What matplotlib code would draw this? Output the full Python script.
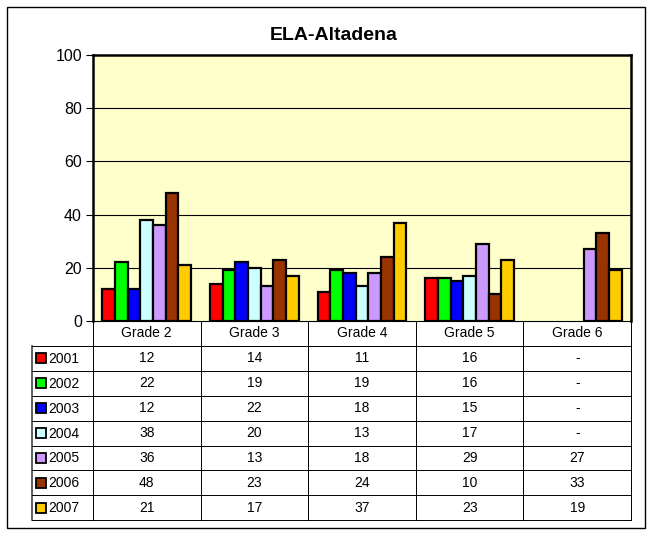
import numpy as np
import matplotlib
matplotlib.use("Agg")
import matplotlib.pyplot as plt
from matplotlib.patches import Rectangle

plt.rcParams['font.family'] = ['Liberation Sans', 'DejaVu Sans']

title = "ELA-Altadena"
grades = ["Grade 2", "Grade 3", "Grade 4", "Grade 5", "Grade 6"]
years = ["2001", "2002", "2003", "2004", "2005", "2006", "2007"]
v2001 = [12, 14, 11, 16, None]
v2002 = [22, 19, 19, 16, None]
v2003 = [12, 22, 18, 15, None]
v2004 = [38, 20, 13, 17, None]
v2005 = [36, 13, 18, 29, 27]
v2006 = [48, 23, 24, 10, 33]
v2007 = [21, 17, 37, 23, 19]
series = [v2001, v2002, v2003, v2004, v2005, v2006, v2007]
colors = ["#FF0000", "#00FF00", "#0000FF", "#CCFFFF", "#CC99FF", "#993300", "#FFCC00"]
yticks = [0, 20, 40, 60, 80, 100]

W, H = 655, 537
fig = plt.figure(figsize=(W / 100, H / 100), dpi=100)

# background overlay axes in pixel coordinates
bg = fig.add_axes([0, 0, 1, 1])
bg.set_xlim(0, W)
bg.set_ylim(H, 0)
bg.axis('off')
bg.add_patch(Rectangle((7, 7), 638, 521, fill=False, edgecolor='black', lw=1.0))
bg.text(334, 35, title, ha='center', va='center', fontsize=14, fontweight='bold')

# chart axes
pl, pr, pt, pb = 93, 631, 55, 321
ax = fig.add_axes([pl / W, (H - pb) / H, (pr - pl) / W, (pb - pt) / H])
ax.set_facecolor("#FFFFCC")
n = len(grades)
nb = len(series)
gap = 1.5
bw = 1.0 / (nb + gap)
x = np.arange(n)
for i, (s, c) in enumerate(zip(series, colors)):
    vals = np.array([np.nan if v is None else v for v in s], dtype=float)
    offs = -0.5 + bw * (gap / 2) + bw * i + bw / 2
    ax.bar(x + offs, vals, width=bw, color=c, edgecolor='black', linewidth=1.6, zorder=3)
ax.set_xlim(-0.5, n - 0.5)
ax.set_ylim(0, 100)
ax.set_yticks(yticks)
ax.set_yticklabels([str(t) for t in yticks], fontsize=11.5)
ax.set_xticks([])
for t in yticks[1:-1]:
    ax.axhline(t, color='black', lw=0.8, zorder=1)
for side in ['top', 'right', 'left']:
    ax.spines[side].set_linewidth(1.8)
ax.spines['bottom'].set_linewidth(0.8)
ax.tick_params(axis='y', direction='out', length=5, width=0.8, pad=3)

# data table
colw = (pr - pl) / n
row0 = pb
rh = 24.9
lc = 'black'
lw = 0.7
nrows = nb
bottom = row0 + rh * (nrows + 1)
fs = 10
for j, g in enumerate(grades):
    bg.text(pl + colw * (j + 0.5), row0 + rh / 2, g, ha='center', va='center', fontsize=fs)
for j in range(n + 1):
    bg.plot([pl + colw * j] * 2, [row0, bottom], color=lc, lw=lw)
bg.plot([32, 32], [row0 + rh, bottom], color='#444444', lw=1.2)
for r in range(1, nrows + 2):
    bg.plot([32, pr], [row0 + rh * r] * 2, color=lc, lw=lw)
for r, (yr, s, c) in enumerate(zip(years, series, colors)):
    yc = row0 + rh * (r + 1.5)
    bg.add_patch(Rectangle((35.5, yc - 5), 10, 10, facecolor=c, edgecolor='black', lw=1.3))
    bg.text(48, yc + 0.5, yr, ha='left', va='center', fontsize=fs)
    for j, v in enumerate(s):
        bg.text(pl + colw * (j + 0.5), yc, '-' if v is None else str(v),
                ha='center', va='center', fontsize=fs)

fig.savefig("out.png", dpi=100)
